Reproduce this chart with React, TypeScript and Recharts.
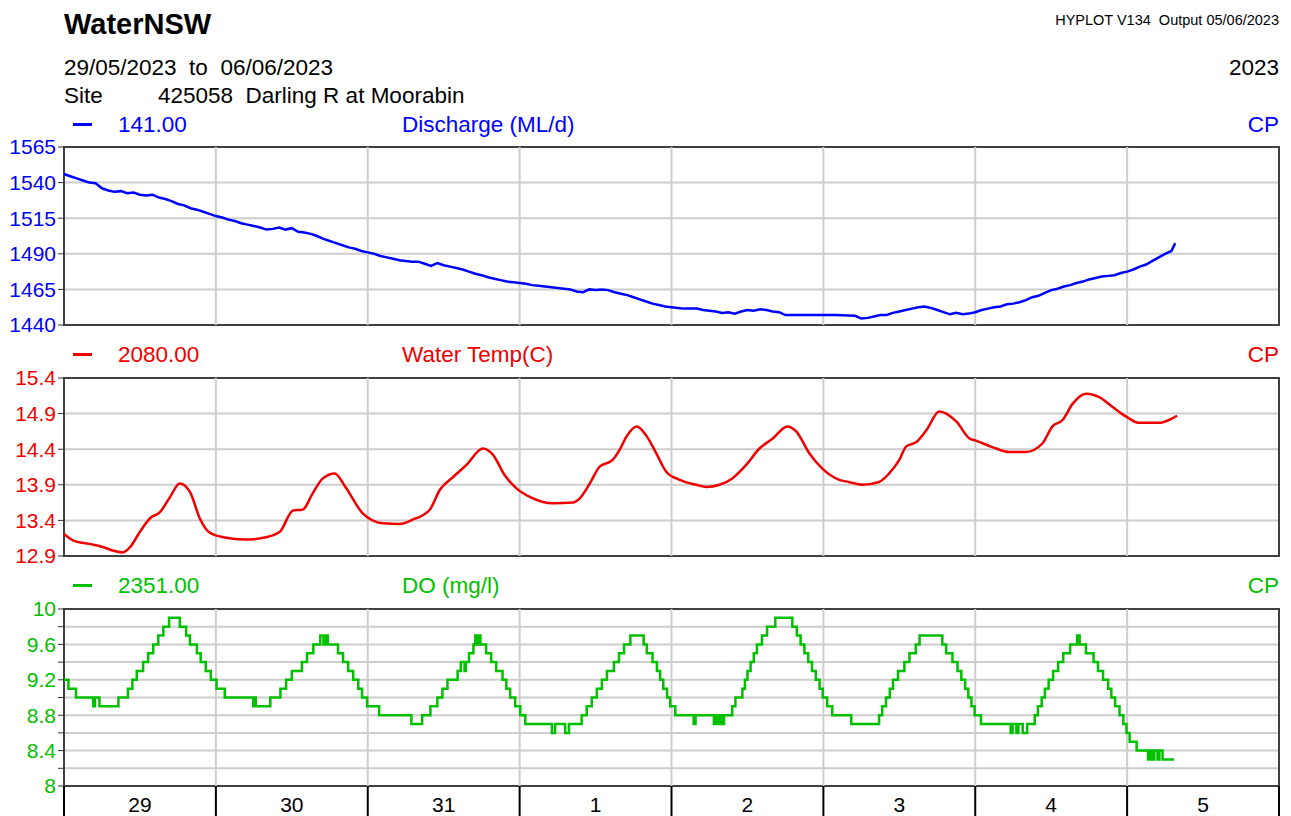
import { LineChart, Line, XAxis, YAxis, CartesianGrid, ReferenceArea, ReferenceLine } from "recharts"

// time axis is hours since 29/05/2023 00:00
const dayStarts = [0, 24, 48, 72, 96, 120, 144, 168, 192]
const dayMids = [12, 36, 60, 84, 108, 132, 156, 180]
const dayLabels = ["29", "30", "31", "1", "2", "3", "4", "5"]

const dischargeTicks = [1440, 1465, 1490, 1515, 1540, 1565]
const tempTicks = [12.9, 13.4, 13.9, 14.4, 14.9, 15.4]
const doTicks = [8, 8.2, 8.4, 8.6, 8.8, 9, 9.2, 9.4, 9.6, 9.8, 10]
const doLabelled = [8, 8.4, 8.8, 9.2, 9.6, 10]

// [hour, ML/d]
const discharge: [number, number][] = [
  [0, 1546], [1, 1544.5], [2, 1543], [3, 1541.5], [4, 1540], [5, 1539.5], [6, 1536], [7, 1534.5],
  [8, 1533.5], [9, 1534], [10, 1532.5], [11, 1533], [12, 1531.5], [13, 1531], [14, 1531.5], [15, 1529.5],
  [16, 1528.5], [17, 1527], [18, 1525], [19, 1524], [20, 1522], [21, 1521], [22, 1519.5], [23, 1518],
  [24, 1516.5], [25, 1515.5], [26, 1514], [27, 1513], [28, 1511.5], [29, 1510.5], [30, 1509.5], [31, 1508.5],
  [32, 1507], [33, 1507.5], [34, 1508.5], [35, 1507], [36, 1508], [37, 1505.5], [38, 1505], [39, 1504],
  [40, 1502.5], [41, 1500.5], [42, 1499], [43, 1497.5], [44, 1496], [45, 1494.5], [46, 1493.5], [47, 1492],
  [48, 1491], [49, 1490], [50, 1488.5], [51, 1487.5], [52, 1486.5], [53, 1485.5], [54, 1485], [55, 1484.5],
  [56, 1484.5], [57, 1483], [58, 1481.5], [59, 1483.5], [60, 1482], [61, 1481], [62, 1480], [63, 1479],
  [64, 1477.5], [65, 1476], [66, 1475], [67, 1473.5], [68, 1472.5], [69, 1471.5], [70, 1470.5], [71, 1470],
  [72, 1469.5], [73, 1469], [74, 1468], [75, 1467.5], [76, 1467], [77, 1466.5], [78, 1466], [79, 1465.5],
  [80, 1465], [81, 1463.5], [82, 1463], [83, 1465], [84, 1464.5], [85, 1465], [86, 1464.5], [87, 1463],
  [88, 1462], [89, 1461], [90, 1459.5], [91, 1458], [92, 1456.5], [93, 1455], [94, 1454], [95, 1453],
  [96, 1452.5], [97, 1452], [98, 1451.5], [99, 1451.5], [100, 1451.5], [101, 1450.5], [102, 1450], [103, 1449.5],
  [104, 1448.5], [105, 1449], [106, 1448], [107, 1449.5], [108, 1450.5], [109, 1450], [110, 1451], [111, 1450.5],
  [112, 1449.5], [113, 1449], [114, 1447], [118, 1447], [122, 1447], [125, 1446.5], [126, 1444.5], [127, 1445],
  [128, 1446], [129, 1447], [130, 1447], [131, 1448.5], [132, 1449.5], [133, 1450.5], [134, 1451.5], [135, 1452.5],
  [136, 1453], [137, 1452], [138, 1450.5], [139, 1449], [140, 1447.5], [141, 1448.5], [142, 1447.5], [143, 1448],
  [144, 1449], [145, 1450.5], [146, 1451.5], [147, 1452.5], [148, 1453], [149, 1454.5], [150, 1455], [151, 1456],
  [152, 1457.5], [153, 1459.5], [154, 1460.5], [155, 1462.5], [156, 1464.5], [157, 1465.5], [158, 1467], [159, 1468],
  [160, 1469.5], [161, 1470.5], [162, 1472], [163, 1473], [164, 1474], [165, 1474.5], [166, 1475], [167, 1476.5],
  [168, 1477.5], [169, 1479], [170, 1481], [171, 1482.5], [172, 1485], [173, 1487.5], [174, 1490], [175, 1492],
  [175.6, 1497.5],
]

// [hour, deg C]
const waterTemp: [number, number][] = [
  [0, 13.21], [1.4, 13.12], [4, 13.07], [6, 13.03], [8, 12.97], [9.3, 12.95], [10.4, 13.02], [12, 13.24],
  [13.6, 13.43], [15.2, 13.52], [16.7, 13.72], [18.3, 13.92], [19.9, 13.8], [21.5, 13.42], [23, 13.23],
  [25.4, 13.16], [28.6, 13.13], [31.7, 13.16], [34.1, 13.24], [36.2, 13.54], [37.7, 13.55], [39.3, 13.78],
  [40.9, 13.99], [42.8, 14.06], [44.4, 13.88], [47.2, 13.5], [50.4, 13.36], [53, 13.35], [55.1, 13.41],
  [57.8, 13.55], [59.4, 13.83], [61.5, 14.01], [63.6, 14.18], [66.2, 14.41], [67.8, 14.32], [69.6, 14.04],
  [71.5, 13.85], [73.6, 13.73], [77.3, 13.64], [80.4, 13.65], [81.5, 13.71], [83.1, 13.92], [84.6, 14.15],
  [86.7, 14.25], [87.8, 14.39], [88.9, 14.58], [90.5, 14.72], [92.1, 14.58], [93.6, 14.34], [95.2, 14.08],
  [97.3, 13.97], [99.9, 13.9], [101.5, 13.87], [103.6, 13.9], [105.6, 13.99], [107.8, 14.18], [109.9, 14.41],
  [112, 14.55], [114.3, 14.72], [115.7, 14.65], [117.8, 14.34], [119.8, 14.13], [122.5, 13.97], [124, 13.94],
  [126.2, 13.9], [128.8, 13.94], [130.4, 14.06], [132, 14.25], [133.1, 14.44], [134.7, 14.5], [136.3, 14.67],
  [138.3, 14.93], [141, 14.79], [143.1, 14.55], [144.1, 14.52], [146.7, 14.43], [149.4, 14.36], [152, 14.36],
  [154.6, 14.48], [156.2, 14.72], [157.8, 14.81], [159.4, 15.04], [161.5, 15.18], [163.6, 15.13], [165.6, 15.0],
  [167.8, 14.86], [169.9, 14.77], [173.1, 14.77], [174.6, 14.81], [175.9, 14.87],
]

// [hour, mg/l] - value changes only, drawn as steps
const dissolvedOxygen: [number, number][] = [
  [0, 9.2], [0.7, 9.1], [1.9, 9.0], [4.6, 8.9], [4.9, 9.0], [5.6, 8.9], [8.6, 9.0], [10.1, 9.1],
  [10.8, 9.2], [11.5, 9.3], [12.5, 9.4], [13.3, 9.5], [14.1, 9.6], [14.9, 9.7], [15.7, 9.8], [16.6, 9.9],
  [18.3, 9.8], [19.3, 9.7], [19.9, 9.6], [21.0, 9.5], [21.6, 9.4], [22.4, 9.3], [23.2, 9.2], [24.1, 9.1],
  [25.4, 9.0], [29.9, 8.9], [30.1, 9.0], [30.3, 8.9], [32.6, 9.0], [34.2, 9.1], [35.1, 9.2], [36.0, 9.3],
  [37.6, 9.4], [38.4, 9.5], [39.4, 9.6], [40.5, 9.7], [41.0, 9.6], [41.4, 9.7], [41.7, 9.6], [43.3, 9.5],
  [44.1, 9.4], [44.9, 9.3], [45.7, 9.2], [46.5, 9.1], [47.1, 9.0], [47.9, 8.9], [49.8, 8.8], [54.9, 8.7],
  [56.6, 8.8], [57.9, 8.9], [59.0, 9.0], [59.8, 9.1], [60.6, 9.2], [62.2, 9.3], [62.7, 9.4], [63.3, 9.3],
  [63.5, 9.4], [64.0, 9.5], [64.7, 9.6], [65.0, 9.7], [65.2, 9.6], [65.6, 9.7], [65.8, 9.6], [66.7, 9.5],
  [67.5, 9.4], [68.3, 9.3], [69.3, 9.2], [69.9, 9.1], [70.5, 9.0], [71.3, 8.9], [72.1, 8.8], [72.9, 8.7],
  [77.1, 8.6], [77.6, 8.7], [79.2, 8.6], [79.8, 8.7], [81.8, 8.8], [82.6, 8.9], [83.4, 9.0], [84.2, 9.1],
  [85.0, 9.2], [85.8, 9.3], [86.9, 9.4], [87.7, 9.5], [88.5, 9.6], [89.5, 9.7], [91.6, 9.6], [92.1, 9.5],
  [93.0, 9.4], [93.7, 9.3], [94.2, 9.2], [94.7, 9.1], [95.3, 9.0], [95.8, 8.9], [96.6, 8.8], [99.5, 8.7],
  [99.8, 8.8], [102.7, 8.7], [103.0, 8.8], [103.3, 8.7], [103.6, 8.8], [104.0, 8.7], [104.3, 8.8], [105.6, 8.9],
  [106.1, 9.0], [107.2, 9.1], [107.6, 9.2], [108.0, 9.3], [108.5, 9.4], [109.0, 9.5], [109.5, 9.6], [110.3, 9.7],
  [111.1, 9.8], [112.4, 9.9], [115.1, 9.8], [115.8, 9.7], [116.4, 9.6], [117.0, 9.5], [117.6, 9.4], [118.2, 9.3],
  [118.8, 9.2], [119.4, 9.1], [119.9, 9.0], [120.6, 8.9], [121.4, 8.8], [124.4, 8.7], [128.8, 8.8], [129.3, 8.9],
  [129.9, 9.0], [130.5, 9.1], [131.0, 9.2], [131.8, 9.3], [132.8, 9.4], [133.6, 9.5], [134.6, 9.6], [135.2, 9.7],
  [138.8, 9.6], [139.4, 9.5], [140.4, 9.4], [141.2, 9.3], [141.8, 9.2], [142.4, 9.1], [142.9, 9.0], [143.4, 8.9],
  [143.9, 8.8], [144.9, 8.7], [149.6, 8.6], [149.9, 8.7], [150.5, 8.6], [150.8, 8.7], [151.5, 8.6], [152.2, 8.7],
  [153.4, 8.8], [153.9, 8.9], [154.5, 9.0], [155.0, 9.1], [155.6, 9.2], [156.3, 9.3], [157.1, 9.4], [157.9, 9.5],
  [159.0, 9.6], [160.1, 9.7], [160.5, 9.6], [161.5, 9.5], [162.7, 9.4], [163.4, 9.3], [164.2, 9.2], [165.0, 9.1],
  [165.5, 9.0], [166.1, 8.9], [166.8, 8.8], [167.4, 8.7], [167.9, 8.6], [168.4, 8.5], [169.5, 8.4], [171.3, 8.3],
  [171.6, 8.4], [172.0, 8.3], [172.3, 8.4], [172.8, 8.3], [173.1, 8.4], [173.6, 8.3], [175.4, 8.3],
]

const BLUE = "#0000FF"
const RED = "#F00000"
const GREEN = "#00C000"
const GRID = "#CDCDCD"
const FONT = 'Arial, "Liberation Sans", sans-serif'
const NB = "\u00a0"

type PanelProps = {
  data: [number, number][]
  color: string
  ticks: number[]
  domain: [number, number]
  fmt: (v: number) => string
  top: number
  lineType: "linear" | "monotone" | "stepAfter"
  dayAxis?: boolean
}

// plot areas: x 64..1279, each panel ~177px tall
function Panel({ data, color, ticks, domain, fmt, top, lineType, dayAxis }: PanelProps) {
  const rows = data.map(([h, v]) => ({ h, v }))
  // the day band under the last panel reaches a little below its y range
  const bandBottom = domain[0] - (domain[1] - domain[0]) * 0.25
  return (
    <div style={{ position: "absolute", left: 0, top }}>
      <LineChart
        width={1291}
        height={dayAxis ? 232 : 208}
        data={rows}
        margin={{ top: 15, right: 12, bottom: dayAxis ? 0 : 15, left: 0 }}
      >
        <CartesianGrid stroke={GRID} strokeWidth={2} vertical={false} />
        {dayStarts.slice(1, -1).map((d) => (
          <ReferenceLine key={d} x={d} stroke={GRID} strokeWidth={2} />
        ))}
        <XAxis
          dataKey="h" type="number" domain={[0, 192]} ticks={dayStarts} allowDataOverflow
          height={0} interval={0} tickFormatter={() => ""}
          axisLine={dayAxis ? { stroke: "#000", strokeWidth: 2 } : false}
          tickLine={false} tickSize={0}
        />
        {dayAxis && (
          <XAxis
            xAxisId="days" dataKey="h" type="number" domain={[0, 192]} ticks={dayMids}
            allowDataOverflow interval={0}
            height={40} axisLine={false} tickLine={false} tickSize={0} tickMargin={11}
            tick={{ fill: "#000", fontSize: 21 }}
            tickFormatter={(v) => dayLabels[dayMids.indexOf(v)]}
          />
        )}
        <YAxis
          type="number" domain={domain} ticks={ticks} allowDataOverflow interval={0}
          width={64} tickSize={6} tickMargin={2}
          tick={{ fill: color, fontSize: 21 }}
          tickFormatter={fmt}
          axisLine={false}
          tickLine={{ stroke: "#333" }}
        />
        <ReferenceArea
          x1={0} x2={192} y1={domain[0]} y2={domain[1]}
          fill="none" fillOpacity={0} stroke="#404040" strokeWidth={2}
        />
        {dayAxis && dayStarts.map((d) => (
          <ReferenceLine
            key={`band-${d}`} ifOverflow="visible" stroke="#000" strokeWidth={2}
            segment={[{ x: d, y: domain[0] }, { x: d, y: bandBottom }]}
          />
        ))}
        <Line
          dataKey="v" type={lineType} stroke={color} strokeWidth={2.5}
          dot={false} activeDot={false} isAnimationActive={false}
        />
      </LineChart>
    </div>
  )
}

function Legend({ y, color, value, title }: { y: number; color: string; value: string; title: string }) {
  return (
    <g fill={color} fontSize={22.5}>
      <rect x={73} y={y - 9} width={19} height={3} fill={color} />
      <text x={118} y={y}>{value}</text>
      <text x={402} y={y}>{title}</text>
      <text x={1279} y={y} textAnchor="end">CP</text>
    </g>
  )
}

export default function App() {
  return (
    <div
      style={{
        position: "absolute", left: 0, top: 0, width: 1291, height: 816,
        overflow: "hidden", background: "#fff", fontFamily: FONT,
      }}
    >
      <svg width={1291} height={816} style={{ position: "absolute", left: 0, top: 0 }}>
        <g fontFamily={FONT} fill="#000">
          <text x={64} y={34} fontSize={29} fontWeight="bold">WaterNSW</text>
          <text x={1279} y={25} fontSize={14.5} textAnchor="end">
            {`HYPLOT V134${NB}${NB}Output 05/06/2023`}
          </text>
          <text x={64} y={75} fontSize={22.5}>{`29/05/2023${NB}${NB}to${NB}${NB}06/06/2023`}</text>
          <text x={1279} y={75} fontSize={22.5} textAnchor="end">2023</text>
          <text x={64} y={103} fontSize={22.5}>Site</text>
          <text x={158} y={103} fontSize={22.5}>{`425058${NB}${NB}Darling R at Moorabin`}</text>
          <Legend y={132} color={BLUE} value="141.00" title="Discharge (ML/d)" />
          <Legend y={362} color={RED} value="2080.00" title="Water Temp(C)" />
          <Legend y={593} color={GREEN} value="2351.00" title="DO (mg/l)" />
        </g>
      </svg>
      <Panel
        data={discharge} color={BLUE} ticks={dischargeTicks} domain={[1440, 1565]}
        fmt={(v) => String(v)} top={132} lineType="linear"
      />
      <Panel
        data={waterTemp} color={RED} ticks={tempTicks} domain={[12.9, 15.4]}
        fmt={(v) => v.toFixed(1)} top={363} lineType="monotone"
      />
      <Panel
        data={dissolvedOxygen} color={GREEN} ticks={doTicks} domain={[8, 10]}
        fmt={(v) => (doLabelled.includes(v) ? String(v) : "")} top={594} lineType="stepAfter" dayAxis
      />
    </div>
  )
}
